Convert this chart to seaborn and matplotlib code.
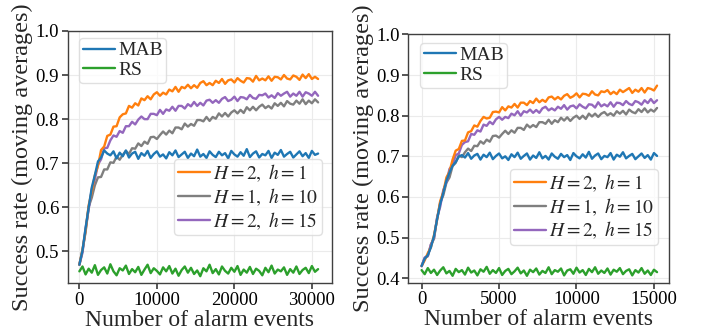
import numpy as np
import pandas as pd
import matplotlib
matplotlib.use("Agg")
import matplotlib.pyplot as plt
import seaborn as sns

# ---- data: moving-average success rate ----
left_events = np.arange(0, 30801, 400)
right_events = np.arange(0, 15201, 200)

left_h2_h1 = [
    .470, .504, .547, .605, .636, .673, .694, .730, .738, .762,
    .765, .783, .784, .804, .811, .813, .830, .826, .836, .831,
    .847, .843, .852, .845, .856, .861, .853, .860, .856, .867,
    .863, .873, .862, .873, .870, .878, .870, .877, .871, .882,
    .886, .877, .882, .877, .887, .882, .891, .880, .888, .890,
    .883, .893, .887, .883, .893, .892, .885, .898, .888, .892,
    .888, .897, .887, .896, .895, .890, .900, .892, .890, .899,
    .896, .889, .901, .893, .902, .891, .896, .891]
left_h1_h10 = [
    .470, .503, .544, .601, .622, .650, .668, .669, .686, .686,
    .702, .701, .715, .708, .719, .728, .721, .734, .733, .745,
    .739, .749, .744, .759, .760, .755, .764, .772, .765, .774,
    .768, .781, .781, .777, .790, .783, .789, .785, .798, .798,
    .795, .805, .796, .805, .801, .813, .806, .814, .806, .815,
    .820, .813, .821, .814, .827, .820, .828, .820, .828, .833,
    .825, .830, .824, .836, .830, .837, .829, .841, .835, .833,
    .842, .835, .845, .834, .842, .836, .845, .838]
left_h2_h15 = [
    .470, .497, .552, .596, .641, .664, .697, .709, .734, .735,
    .752, .763, .760, .773, .769, .784, .784, .794, .788, .799,
    .806, .800, .800, .812, .812, .809, .821, .812, .822, .819,
    .828, .819, .830, .830, .824, .834, .829, .839, .830, .837,
    .831, .842, .844, .837, .843, .837, .846, .850, .841, .844,
    .851, .841, .850, .849, .845, .855, .848, .846, .855, .854,
    .858, .849, .854, .848, .859, .853, .858, .862, .851, .858,
    .853, .862, .851, .861, .858, .853, .862, .853]
left_mab = [
    .470, .502, .553, .600, .645, .673, .704, .713, .729, .722,
    .718, .727, .711, .724, .716, .729, .713, .722, .726, .710,
    .723, .717, .728, .712, .721, .727, .715, .720, .711, .725,
    .718, .729, .714, .720, .726, .712, .722, .716, .731, .715,
    .721, .712, .727, .719, .714, .726, .718, .723, .711, .728,
    .720, .715, .725, .717, .732, .714, .722, .727, .713, .721,
    .718, .728, .712, .724, .719, .730, .715, .721, .726, .713,
    .720, .727, .716, .723, .712, .728, .719, .722]
left_rs = [
    .455, .466, .448, .461, .452, .469, .447, .458, .464, .450,
    .471, .455, .446, .462, .457, .468, .449, .460, .453, .465,
    .447, .459, .470, .451, .462, .456, .448, .464, .455, .467,
    .450, .461, .445, .458, .466, .452, .463, .449, .457, .444,
    .462, .455, .470, .451, .460, .448, .466, .456, .450, .463,
    .454, .467, .447, .459, .452, .465, .449, .461, .456, .446,
    .463, .453, .468, .450, .459, .455, .464, .447, .460, .452,
    .466, .449, .458, .463, .451, .467, .454, .460]

right_h2_h1 = [
    .430, .444, .462, .476, .506, .544, .590, .612, .648, .662,
    .692, .714, .718, .738, .739, .759, .762, .776, .773, .787,
    .797, .793, .795, .809, .810, .808, .821, .813, .823, .820,
    .829, .820, .832, .832, .826, .836, .831, .842, .833, .839,
    .834, .845, .847, .840, .846, .840, .849, .853, .844, .848,
    .855, .845, .854, .853, .849, .860, .852, .850, .860, .858,
    .863, .853, .859, .853, .864, .858, .863, .868, .856, .864,
    .859, .868, .857, .868, .866, .862, .874]
right_h1_h10 = [
    .430, .450, .454, .483, .497, .548, .586, .604, .635, .648,
    .676, .684, .703, .698, .710, .719, .713, .726, .725, .737,
    .731, .741, .736, .750, .751, .746, .755, .763, .755, .764,
    .758, .770, .770, .765, .778, .771, .777, .772, .784, .784,
    .780, .790, .780, .789, .784, .795, .788, .796, .787, .795,
    .800, .792, .800, .792, .805, .798, .805, .797, .805, .809,
    .801, .806, .800, .811, .805, .812, .803, .815, .809, .806,
    .816, .809, .818, .808, .815, .810, .819]
right_h2_h15 = [
    .430, .451, .455, .483, .499, .549, .576, .617, .636, .669,
    .678, .703, .707, .728, .735, .737, .755, .753, .764, .761,
    .778, .775, .785, .779, .791, .797, .790, .797, .794, .805,
    .801, .811, .800, .811, .808, .815, .807, .814, .807, .818,
    .822, .813, .818, .813, .822, .817, .826, .815, .823, .825,
    .818, .828, .822, .818, .828, .827, .820, .833, .823, .828,
    .823, .833, .822, .832, .831, .826, .836, .829, .826, .836,
    .833, .827, .838, .831, .841, .831, .838]
right_mab = [
    .430, .448, .457, .476, .504, .545, .583, .610, .640, .660,
    .677, .686, .699, .703, .697, .708, .694, .702, .706, .692,
    .704, .698, .709, .693, .701, .707, .695, .700, .691, .705,
    .698, .709, .694, .701, .707, .692, .702, .696, .710, .695,
    .701, .692, .707, .699, .694, .706, .698, .703, .691, .708,
    .700, .695, .705, .697, .711, .694, .702, .707, .693, .701,
    .698, .708, .692, .704, .699, .710, .695, .701, .706, .693,
    .700, .707, .696, .703, .692, .708, .701]
right_rs = [
    .420, .410, .425, .413, .421, .408, .419, .427, .412, .418,
    .406, .423, .415, .420, .409, .426, .414, .419, .407, .422,
    .416, .428, .411, .420, .413, .425, .408, .418, .423, .410,
    .417, .426, .412, .419, .406, .421, .415, .424, .409, .418,
    .413, .427, .410, .420, .416, .424, .407, .419, .422, .411,
    .426, .414, .420, .408, .423, .415, .427, .411, .419, .413,
    .424, .409, .421, .416, .425, .410, .418, .422, .407, .420,
    .414, .425, .411, .419, .408, .421, .415]

labels = {'h2_h1': r'$H=2,\ h=1$', 'h1_h10': r'$H=1,\ h=10$',
          'h2_h15': r'$H=2,\ h=15$', 'mab': 'MAB', 'rs': 'RS'}
colors = {'h2_h1': '#ff7f0e', 'h1_h10': '#7f7f7f', 'h2_h15': '#9467bd',
          'mab': '#1f77b4', 'rs': '#2ca02c'}

left_df = pd.DataFrame({'events': left_events, 'h2_h1': left_h2_h1, 'h1_h10': left_h1_h10,
                        'h2_h15': left_h2_h15, 'mab': left_mab, 'rs': left_rs})
right_df = pd.DataFrame({'events': right_events, 'h2_h1': right_h2_h1, 'h1_h10': right_h1_h10,
                         'h2_h15': right_h2_h15, 'mab': right_mab, 'rs': right_rs})

sns.set_theme(style="whitegrid", rc={
    'axes.edgecolor': '0.25', 'axes.linewidth': 1.0,
    'grid.color': '0.92', 'grid.linewidth': 0.8,
    'xtick.bottom': True, 'ytick.left': True,
    'xtick.color': '0.25', 'ytick.color': '0.25',
    'xtick.major.size': 4.5, 'ytick.major.size': 4.5,
    'xtick.labelcolor': 'black', 'ytick.labelcolor': 'black',
})
plt.rcParams['font.family'] = ['Liberation Serif', 'DejaVu Serif']
plt.rcParams['mathtext.fontset'] = 'stix'


def draw_panel(ax, df, xlim, ylim, xticks, yticks, leg1_anchor, leg2_anchor):
    '''
    Draws one panel: five moving-average curves and two legends
    '''
    lines = {}
    for key in ['h1_h10', 'h2_h15', 'h2_h1', 'rs', 'mab']:
        sns.lineplot(data=df, x='events', y=key, ax=ax, color=colors[key],
                     linewidth=1.7, legend=False)
        lines[key] = ax.get_lines()[-1]
    ax.set_xlim(xlim)
    ax.set_ylim(ylim)
    ax.set_xticks(xticks)
    ax.set_yticks(yticks)
    ax.tick_params(labelsize=13.5, pad=1.5)
    ax.set_xlabel('Number of alarm events', fontsize=17, labelpad=1)
    ax.set_ylabel('Success rate (moving averages)', fontsize=17.5, labelpad=2)

    leg_kw = dict(fontsize=14, handlelength=1.65, handletextpad=0.18, labelspacing=0.12,
                  borderpad=0.18, borderaxespad=0, framealpha=0.8, edgecolor='0.85',
                  fancybox=True)
    first = ax.legend([lines['mab'], lines['rs']], [labels['mab'], labels['rs']],
                      loc='upper left', bbox_to_anchor=leg1_anchor, **leg_kw)
    ax.add_artist(first)
    ax.legend([lines[k] for k in ['h2_h1', 'h1_h10', 'h2_h15']],
              [labels[k] for k in ['h2_h1', 'h1_h10', 'h2_h15']],
              loc='lower right', bbox_to_anchor=leg2_anchor, **leg_kw)
    for leg in (first, ax.get_legend()):
        for handle in leg.get_lines():
            handle.set_linewidth(1.7)


fig, axes = plt.subplots(1, 2, figsize=(7.07, 3.36), dpi=100)
axes[0].set_position([0.0955, 0.157, 0.3737, 0.751])
axes[1].set_position([0.5775, 0.1586, 0.3687, 0.739])

draw_panel(axes[0], left_df, (-1530, 32560), (0.428, 1.0),
           [0, 10000, 20000, 30000], [0.5, 0.6, 0.7, 0.8, 0.9, 1.0],
           (0.0435, 0.971), (0.963, 0.191))
draw_panel(axes[1], right_df, (-860, 15970), (0.389, 1.0),
           [0, 5000, 10000, 15000], [0.4, 0.5, 0.6, 0.7, 0.8, 0.9, 1.0],
           (0.045, 0.965), (0.958, 0.152))

fig.savefig('out.png', dpi=100)
